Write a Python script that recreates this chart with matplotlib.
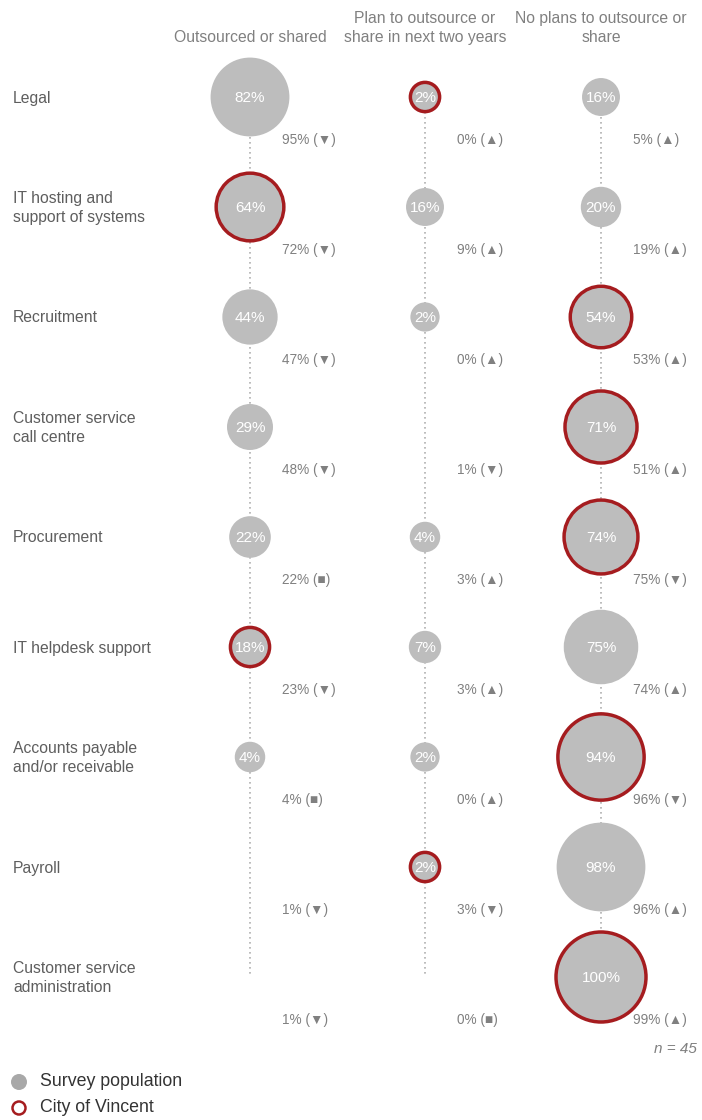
import matplotlib.pyplot as plt
from matplotlib.patches import Circle

plt.rcParams["font.family"] = ["Liberation Sans", "DejaVu Sans"]

CATEGORIES = ["Legal", "IT hosting and\nsupport of systems", "Recruitment",
              "Customer service\ncall centre", "Procurement", "IT helpdesk support",
              "Accounts payable\nand/or receivable", "Payroll",
              "Customer service\nadministration"]
COLUMNS = ["Outsourced or shared", "Plan to outsource or\nshare in next two years",
           "No plans to outsource or\nshare"]

OUTSOURCED = [82, 64, 44, 29, 22, 18, 4, 0, 0]
PLAN = [2, 16, 2, 0, 4, 7, 2, 2, 0]
NO_PLAN = [16, 20, 54, 71, 74, 75, 94, 98, 100]

PREV_OUT = [95, 72, 47, 48, 22, 23, 4, 1, 1]
PREV_PLAN = [0, 9, 0, 1, 3, 3, 0, 3, 0]
PREV_NO = [5, 19, 53, 51, 75, 74, 96, 96, 99]
TREND_OUT = ["down", "down", "down", "down", "same", "down", "same", "down", "down"]
TREND_PLAN = ["up", "up", "up", "down", "up", "up", "up", "down", "same"]
TREND_NO = ["up", "up", "up", "up", "down", "up", "down", "up", "up"]

# column where City of Vincent sits, per category
VINCENT = [1, 0, 2, 2, 2, 0, 2, 1, 2]

GREY = "#bdbdbd"
RED = "#a51c1f"
TEXT = "#5e5e5e"
LIGHT = "#808080"
SYMBOL = {"up": "\u25B2", "down": "\u25BC", "same": "\u25A0"}

COL_X = [250, 425, 601]
ROW0, ROW_STEP = 97, 110


def radius(v):
    return 14 + 31 * v / 100


fig = plt.figure(figsize=(7.02, 11.2), dpi=100)
ax = fig.add_axes([0, 0, 1, 1])
ax.set_xlim(0, 702)
ax.set_ylim(1120, 0)
ax.axis("off")

rows_y = [ROW0 + ROW_STEP * i for i in range(len(CATEGORIES))]
values = [OUTSOURCED, PLAN, NO_PLAN]
prevs = [PREV_OUT, PREV_PLAN, PREV_NO]
trends = [TREND_OUT, TREND_PLAN, TREND_NO]

for c, x in enumerate(COL_X):
    ax.plot([x, x], [rows_y[0], rows_y[-1]], color="#b0b0b0", lw=1.2,
            linestyle=(0, (1, 2)), zorder=1)
    ax.text(x, 45, COLUMNS[c], ha="center", va="bottom", fontsize=11.3,
            color=LIGHT, linespacing=1.3)

for i, cat in enumerate(CATEGORIES):
    y = rows_y[i]
    ax.text(13, y + 1, cat, ha="left", va="center", fontsize=11.3, color=TEXT,
            linespacing=1.4)
    for c, x in enumerate(COL_X):
        v = values[c][i]
        if v > 0:
            r = radius(v)
            ax.add_patch(Circle((x, y), r, facecolor=GREY, edgecolor="none", zorder=2))
            if VINCENT[i] == c:
                ax.add_patch(Circle((x, y), r, facecolor="none", edgecolor=RED,
                                    lw=2.5, zorder=3))
            ax.text(x, y + 1, f"{v}%", ha="center", va="center", fontsize=11,
                    color="white", zorder=4)
        ax.text(x + 32, y + 43, f"{prevs[c][i]}% ({SYMBOL[trends[c][i]]})",
                ha="left", va="center", fontsize=9.8, color=LIGHT, zorder=5)

ax.text(697, 1049, "n = 45", ha="right", va="center", fontsize=11,
        style="italic", color=LIGHT)

# legend
ax.add_patch(Circle((19, 1082), 8, facecolor="#a8a8a8", edgecolor="none"))
ax.add_patch(Circle((19, 1108), 6.5, facecolor="none", edgecolor=RED, lw=1.8))
ax.text(40, 1082, "Survey population", ha="left", va="center", fontsize=12.8,
        color="#333333")
ax.text(40, 1108, "City of Vincent", ha="left", va="center", fontsize=12.8,
        color="#333333")

fig.savefig("out.png", dpi=100)
